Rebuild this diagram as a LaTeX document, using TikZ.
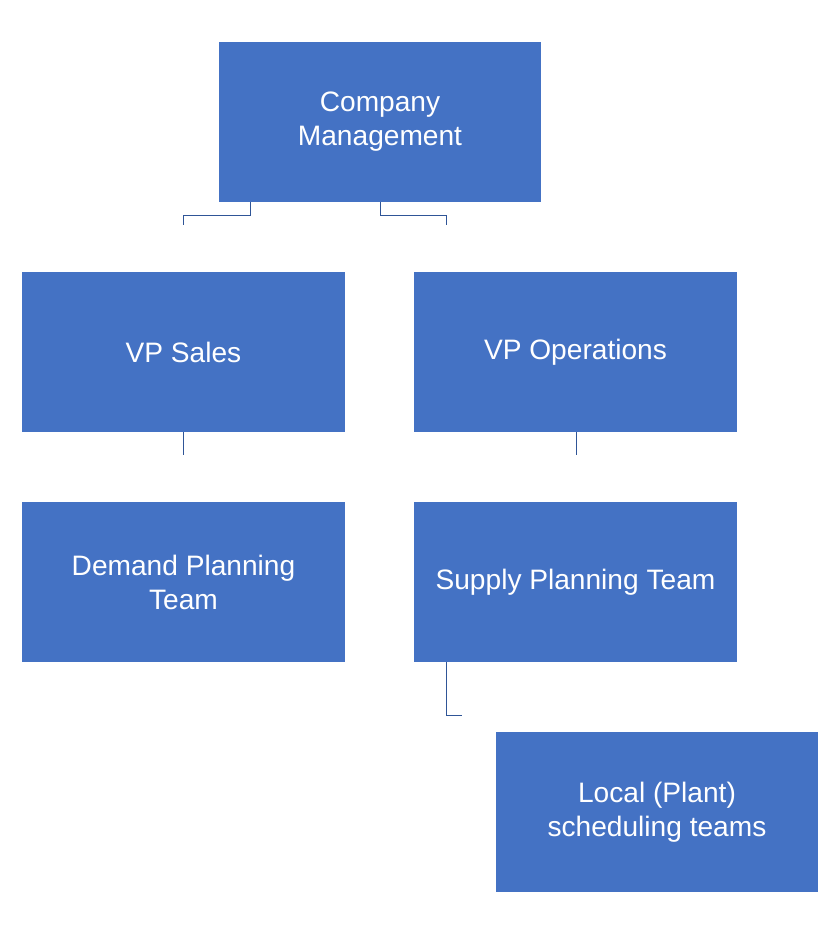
\documentclass[tikz,border=0pt]{standalone}
\usepackage{fontspec}
\setmainfont{Liberation Sans}
\definecolor{boxblue}{HTML}{4472C4}
\definecolor{linkblue}{HTML}{2F5597}
\begin{document}
\begin{tikzpicture}[
	x=0.03cm, y=-0.03cm,
	orgbox/.style = {rectangle, fill=boxblue, text=white, align=center,
		minimum width=9.66cm, minimum height=4.8cm, inner sep=0pt,
		font=\fontsize{24}{29}\selectfont},
	link/.style = {draw=linkblue, line width=0.8pt}
]
\useasboundingbox (0,0) rectangle (840,938);
\node (cm) [orgbox] at (380,122) {Company\\Management};
\node (vps) [orgbox] at (183.5,352) {VP Sales};
\node (vpo) [orgbox] at (575.5,352) {VP Operations};
\node (dpt) [orgbox] at (183.5,582) {Demand Planning\\Team};
\node (spt) [orgbox] at (575.5,582) {Supply Planning Team};
\node (lst) [orgbox] at (657,812) {Local (Plant)\\scheduling teams};

\coordinate (a1) at (250,215);
\coordinate (a2) at (183,215);
\coordinate (a3) at (183,225);
\coordinate (b1) at (380,215);
\coordinate (b2) at (446,215);
\coordinate (b3) at (446,225);
\coordinate (c1) at (183,455);
\coordinate (d1) at (576,455);
\coordinate (e1) at (446,715);
\coordinate (e2) at (462,715);

\draw[link] (cm.south -| a1) -- (a1) -- (a2) -- (a3);
\draw[link] (cm.south) -- (b1) -- (b2) -- (b3);
\draw[link] (vps.south -| c1) -- (c1);
\draw[link] (vpo.south -| d1) -- (d1);
\draw[link] (spt.south -| e1) -- (e1) -- (e2);
\end{tikzpicture}
\end{document}
